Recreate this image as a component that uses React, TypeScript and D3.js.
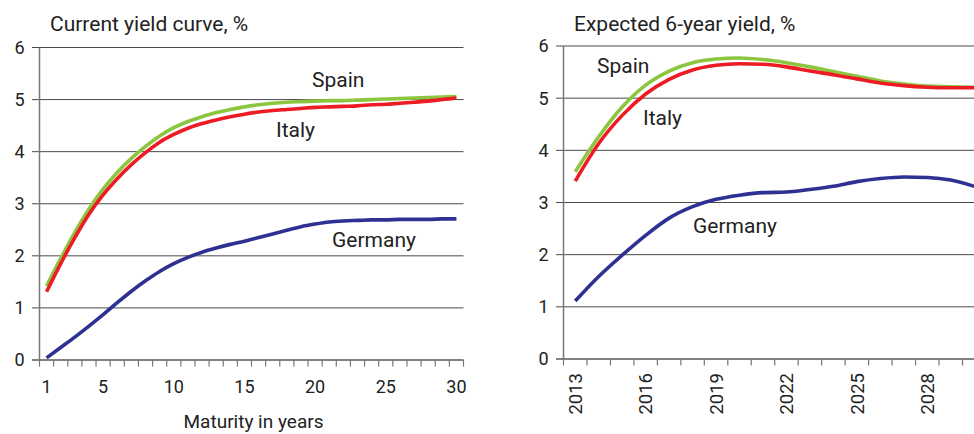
import React from "react";
import * as d3 from "d3";

// ---- Data ----
const maturities: number[] = d3.range(1, 31);
const spainCurve: number[] = [1.42, 1.95, 2.45, 2.9, 3.28, 3.6, 3.87, 4.1, 4.3, 4.46, 4.58, 4.67, 4.75, 4.81, 4.86, 4.9, 4.93, 4.95, 4.96, 4.97, 4.98, 4.98, 4.99, 5.0, 5.01, 5.02, 5.03, 5.04, 5.05, 5.06];
const italyCurve: number[] = [1.31, 1.85, 2.35, 2.8, 3.17, 3.48, 3.75, 3.98, 4.18, 4.33, 4.45, 4.54, 4.61, 4.67, 4.72, 4.76, 4.79, 4.81, 4.83, 4.85, 4.86, 4.87, 4.88, 4.9, 4.91, 4.93, 4.95, 4.97, 5.0, 5.03];
const germanyCurve: number[] = [0.04, 0.24, 0.44, 0.65, 0.87, 1.1, 1.32, 1.52, 1.7, 1.85, 1.97, 2.07, 2.15, 2.22, 2.28, 2.35, 2.42, 2.49, 2.56, 2.61, 2.65, 2.67, 2.68, 2.69, 2.69, 2.7, 2.7, 2.7, 2.71, 2.71];
const maturityTickLabels: number[] = [1, 5, 10, 15, 20, 25, 30];

const years: number[] = d3.range(2013, 2032);
const dataYears: number[] = d3.range(2013, 2031);
const spainExpected: number[] = [3.59, 4.26, 4.83, 5.25, 5.52, 5.68, 5.75, 5.77, 5.74, 5.68, 5.6, 5.51, 5.42, 5.33, 5.27, 5.23, 5.22, 5.21];
const italyExpected: number[] = [3.41, 4.13, 4.67, 5.08, 5.36, 5.54, 5.63, 5.66, 5.65, 5.6, 5.52, 5.45, 5.37, 5.29, 5.24, 5.21, 5.2, 5.2];
const germanyExpected: number[] = [1.11, 1.58, 1.99, 2.37, 2.7, 2.92, 3.06, 3.14, 3.19, 3.2, 3.25, 3.31, 3.4, 3.46, 3.49, 3.48, 3.43, 3.31];
const yearTickLabels: number[] = [2013, 2016, 2019, 2022, 2025, 2028];

const yTicks: number[] = [0, 1, 2, 3, 4, 5, 6];

const GREEN = "#8cc63f";
const RED = "#ed1c24";
const BLUE = "#2e3192";
const TEXT = "#222";
const FONT = "Roboto, 'Noto Sans', sans-serif";

type Series = { name: string; values: number[]; color: string };

function Panel(props: {
  cats: number[];
  dataCats: number[];
  series: Series[];
  x0: number;
  x1: number;
  gridRight: number;
  title: string;
  tickLabels: number[];
  rotated: boolean;
  labels: { text: string; x: number; y: number }[];
  yTop: number;
  yBottom: number;
  xTitle?: string;
}) {
  const { cats, dataCats, series, x0, x1, gridRight, title, tickLabels, rotated, labels, yTop, yBottom, xTitle } = props;
  const x = d3.scaleBand<number>().domain(cats).range([x0, x1]).padding(0);
  const y = d3.scaleLinear().domain([0, 6]).range([yBottom, yTop]);
  const cx = (c: number) => (x(c) as number) + x.bandwidth() / 2;
  const line = d3
    .line<number>()
    .x((_, i) => cx(dataCats[i]))
    .y((d) => y(d))
    .curve(d3.curveMonotoneX);
  const boundaries = cats.map((c) => x(c) as number).concat([x1]);
  return (
    <g>
      <text x={x0 + 10.5} y={31} fontFamily={FONT} fontSize={21} fill={TEXT}>
        {title}
      </text>
      {yTicks.map((t) => (
        <g key={t}>
          <line x1={x0 - 7.5} x2={gridRight} y1={y(t)} y2={y(t)} stroke="#4a4a4a" strokeWidth={1} />
          <text x={x0 - 15} y={y(t)} dy="0.36em" textAnchor="end" fontFamily={FONT} fontSize={18} fill={TEXT}>
            {t}
          </text>
        </g>
      ))}
      <line x1={x0} x2={x0} y1={y(6)} y2={y(0)} stroke="#777" strokeWidth={1.5} />
      <line x1={x0 - 7.5} x2={gridRight} y1={y(0)} y2={y(0)} stroke="#777" strokeWidth={1.5} />
      {boundaries.map((b, i) => (
        <line key={i} x1={b} x2={b} y1={y(0)} y2={y(0) + 6.5} stroke="#777" strokeWidth={1.2} />
      ))}
      {tickLabels.map((t) =>
        rotated ? (
          <text
            key={t}
            transform={`translate(${cx(t)},${y(0) + 14}) rotate(-90)`}
            dy="0.36em"
            textAnchor="end"
            fontFamily={FONT}
            fontSize={18.5}
            fill={TEXT}
          >
            {t}
          </text>
        ) : (
          <text key={t} x={cx(t)} y={y(0) + 33} textAnchor="middle" fontFamily={FONT} fontSize={18} fill={TEXT}>
            {t}
          </text>
        )
      )}
      {xTitle && (
        <text x={(x0 + x1) / 2 + 2} y={428} textAnchor="middle" fontFamily={FONT} fontSize={19} fill={TEXT}>
          {xTitle}
        </text>
      )}
      {series.map((s) => (
        <path key={s.name} d={line(s.values) || ""} fill="none" stroke={s.color} strokeWidth={3.6} strokeLinejoin="round" />
      ))}
      {labels.map((l) => (
        <text key={l.text} x={l.x} y={l.y} fontFamily={FONT} fontSize={21} fill={TEXT}>
          {l.text}
        </text>
      ))}
    </g>
  );
}

export default function App() {
  return (
    <svg
      width={974}
      height={434}
      style={{ position: "absolute", left: 0, top: 0, background: "#fff", overflow: "hidden" }}
    >
      <rect width={974} height={434} fill="#fff" />
      <Panel
        cats={maturities}
        dataCats={maturities}
        series={[
          { name: "Spain", values: spainCurve, color: GREEN },
          { name: "Italy", values: italyCurve, color: RED },
          { name: "Germany", values: germanyCurve, color: BLUE },
        ]}
        x0={39.5}
        x1={463.5}
        gridRight={463.5}
        title="Current yield curve, %"
        tickLabels={maturityTickLabels}
        rotated={false}
        labels={[
          { text: "Spain", x: 312, y: 87 },
          { text: "Italy", x: 276, y: 137 },
          { text: "Germany", x: 332, y: 247 },
        ]}
        yTop={47.5}
        yBottom={360}
        xTitle="Maturity in years"
      />
      <Panel
        cats={years}
        dataCats={dataYears}
        series={[
          { name: "Spain", values: spainExpected, color: GREEN },
          { name: "Italy", values: italyExpected, color: RED },
          { name: "Germany", values: germanyExpected, color: BLUE },
        ]}
        x0={563.5}
        x1={563.5 + 23.47 * years.length}
        gridRight={974}
        title="Expected 6-year yield, %"
        tickLabels={yearTickLabels}
        rotated={true}
        labels={[
          { text: "Spain", x: 597, y: 73 },
          { text: "Italy", x: 643, y: 125 },
          { text: "Germany", x: 693, y: 233 },
        ]}
        yTop={46}
        yBottom={359}
      />
    </svg>
  );
}
